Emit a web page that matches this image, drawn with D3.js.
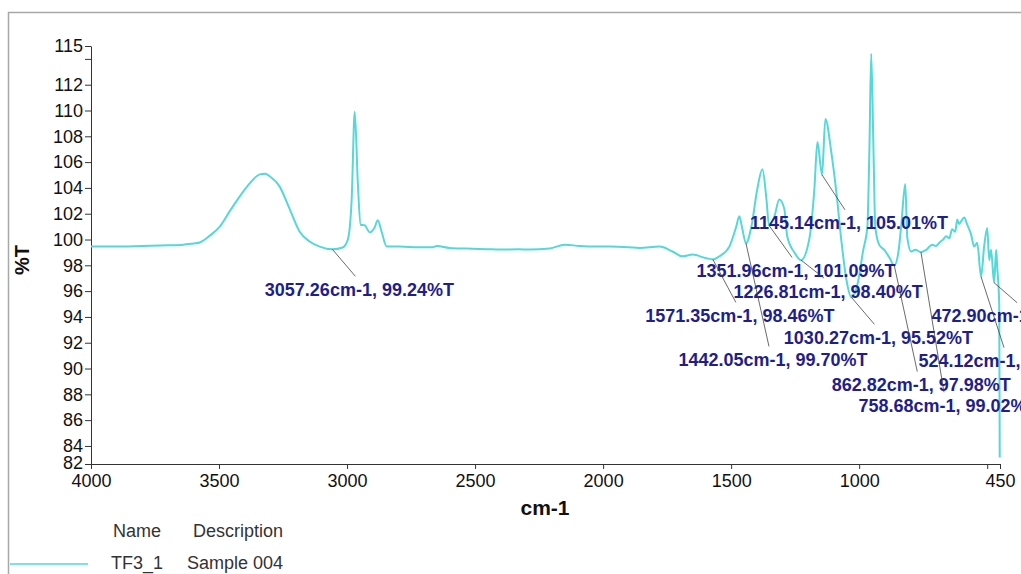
<!DOCTYPE html>
<html>
<head>
<meta charset="utf-8">
<script src="https://cdn.jsdelivr.net/npm/d3@7"></script>
<style>
  body { margin: 0; background: #fff; }
  svg { display: block; font-family: Arial, "Liberation Sans", sans-serif; }
</style>
</head>
<body>
<div id="chart"></div>
<script>
// spectrum: wavenumber (cm-1) and %T
const wavenumber = [4000, 3900, 3800, 3700, 3640, 3600, 3575, 3536, 3497, 3458, 3419, 3380, 3341, 3320, 3302,
  3263, 3224, 3185, 3146, 3107, 3057, 3017, 2997, 2982, 2970, 2958, 2947, 2931, 2911, 2892, 2880, 2865,
  2845, 2794, 2720, 2666, 2650, 2600, 2533, 2450, 2404, 2330, 2287, 2209, 2150, 2092, 2030, 1975, 1900,
  1858, 1780, 1729, 1690, 1651, 1597, 1571, 1546, 1507, 1480, 1468, 1456, 1442, 1421, 1398, 1378, 1362,
  1352, 1331, 1312, 1292, 1281, 1253, 1227, 1195, 1175, 1163, 1145, 1132, 1109, 1089, 1070, 1050, 1030,
  1007, 984, 968, 960, 953, 945, 937, 922, 902, 882, 863, 847, 836, 820, 812, 797, 780, 759, 738, 715,
  700, 687, 672, 660, 648, 637, 625, 617, 610, 602, 590, 578, 563, 551, 539, 524, 512, 500, 492, 485,
  473, 465, 461, 453, 451];
const transmittance = [99.45, 99.45, 99.5, 99.55, 99.6, 99.7, 99.77, 100.3, 101.0, 102.2, 103.35, 104.35, 105.05, 105.1, 104.9,
  104.1, 102.35, 100.6, 99.85, 99.45, 99.24, 99.38, 100.0, 103.1, 109.9, 104.4, 101.15, 101.1, 100.55, 100.95, 101.5, 100.6,
  99.45, 99.45, 99.4, 99.4, 99.5, 99.35, 99.3, 99.25, 99.22, 99.25, 99.22, 99.3, 99.6, 99.5, 99.45, 99.45, 99.4,
  99.35, 99.45, 99.07, 98.7, 98.83, 98.55, 98.46, 98.7, 99.45, 101.0, 101.8, 100.8, 99.7, 101.0, 103.9, 105.45, 103.1,
  101.09, 101.8, 103.1, 102.35, 100.25, 99.0, 98.4, 100.0, 103.9, 107.55, 105.01, 109.35, 106.8, 103.65, 100.0, 96.9, 95.52,
  96.5, 99.2, 101.0, 107.0, 114.4, 107.8, 101.0, 99.6, 99.2, 98.6, 97.98, 99.0, 101.0, 104.3, 100.15, 99.07, 99.2, 99.02, 99.2, 99.6,
  99.5, 99.75, 100.0, 100.25, 100.1, 100.8, 100.6, 101.55, 101.2, 101.4, 101.7, 101.15, 100.4, 99.45, 99.75, 97.12, 99.45, 100.9, 98.4, 99.2,
  96.65, 99.2, 97.9, 95.0, 83.1];

// picked peaks
const peakWn = [3057.26, 1145.14, 1351.96, 1226.81, 1571.35, 1030.27, 1442.05, 862.82, 758.68, 524.12, 472.90];
const peakT = [99.24, 105.01, 101.09, 98.40, 98.46, 95.52, 99.70, 97.98, 99.02, 97.12, 96.65];
// vertical offset of each label below its point (px)
const labelDy = [40, 48, 45, 31, 56, 40, 116, 119, 153, 84, 33];

const xTicks = [4000, 3500, 3000, 2500, 2000, 1500, 1000, 500, 450];
const yTicks = [82.6, 84, 86, 88, 90, 92, 94, 96, 98, 100, 102, 104, 106, 108, 110, 112, 114, 115];
const legendHeader = ["Name", "Description"];
const legendRow = ["TF3_1", "Sample 004"];

const W = 1021, H = 574;
const lineColor = "#55d8d8";

const svg = d3.select("#chart").append("svg")
  .attr("width", W)
  .attr("height", H)
  .style("overflow", "hidden");

// frame
svg.append("path")
  .attr("d", `M8.5,${H} L8.5,12.5 L${W},12.5`)
  .attr("fill", "none")
  .attr("stroke", "#a8a8a8")
  .attr("stroke-width", 1.5);

const x = d3.scaleLinear().domain([4000, 450]).range([91, 1000]);
const y = d3.scaleLinear().domain([82.6, 115]).range([464, 46]);

// x axis
const gx = svg.append("g")
  .attr("transform", "translate(0,464)")
  .call(d3.axisBottom(x).tickValues(xTicks).tickSize(5).tickSizeOuter(0).tickPadding(5)
    .tickFormat(d => d === 500 ? "" : d));
// y axis
const gy = svg.append("g")
  .attr("transform", "translate(91,0)")
  .call(d3.axisLeft(y).tickValues(yTicks).tickSize(6).tickSizeOuter(0).tickPadding(2)
    .tickFormat(d => d === 114 ? "" : Math.floor(d)));

[gx, gy].forEach(g => {
  g.selectAll("path, line").attr("stroke", "#333");
  g.selectAll("text").attr("font-size", 18).attr("fill", "#111")
    .attr("font-family", "Arial, 'Liberation Sans', sans-serif");
});
// bottom y label squeezed between 84 and the x labels
gy.selectAll(".tick text").filter(d => d === 82.6).attr("dy", "0.25em");

// axis titles
svg.append("text")
  .attr("x", 545).attr("y", 515)
  .attr("text-anchor", "middle")
  .attr("font-size", 21).attr("font-weight", "bold").attr("fill", "#111")
  .text("cm-1");
svg.append("text")
  .attr("transform", "translate(29,260) rotate(-90)")
  .attr("text-anchor", "middle")
  .attr("font-size", 20).attr("font-weight", "bold").attr("fill", "#111")
  .text("%T");

// spectrum
const pts = wavenumber.map((w, i) => [w, transmittance[i]]);
svg.append("path")
  .datum(pts)
  .attr("fill", "none")
  .attr("stroke", lineColor)
  .attr("stroke-width", 2)
  .attr("stroke-linejoin", "round")
  .attr("d", d3.line().curve(d3.curveMonotoneX).x(d => x(d[0])).y(d => y(d[1])));

// peak labels with leader lines
const ann = svg.append("g");
peakWn.forEach((w, i) => {
  const px = x(w), py = y(peakT[i]);
  const cx = px + 27, cy = py + labelDy[i];
  ann.append("line")
    .attr("x1", px).attr("y1", py)
    .attr("x2", cx - 4).attr("y2", cy - 13)
    .attr("stroke", "#444").attr("stroke-width", 0.8);
  ann.append("text")
    .attr("x", cx).attr("y", cy)
    .attr("dy", "0.36em")
    .attr("text-anchor", "middle")
    .attr("font-size", 18).attr("font-weight", "bold")
    .attr("fill", "#1e1e8c")
    .text(`${w.toFixed(2)}cm-1, ${peakT[i].toFixed(2)}%T`);
});

// legend
const lg = svg.append("g").attr("font-size", 18).attr("fill", "#333");
lg.append("text").attr("x", 113).attr("y", 537).text(legendHeader[0]);
lg.append("text").attr("x", 193).attr("y", 537).text(legendHeader[1]);
lg.append("text").attr("x", 111).attr("y", 569).text(legendRow[0]);
lg.append("text").attr("x", 187).attr("y", 569).text(legendRow[1]);
svg.append("line")
  .attr("x1", 10).attr("x2", 88)
  .attr("y1", 564).attr("y2", 564)
  .attr("stroke", lineColor).attr("stroke-width", 1.5);
</script>
</body>
</html>
